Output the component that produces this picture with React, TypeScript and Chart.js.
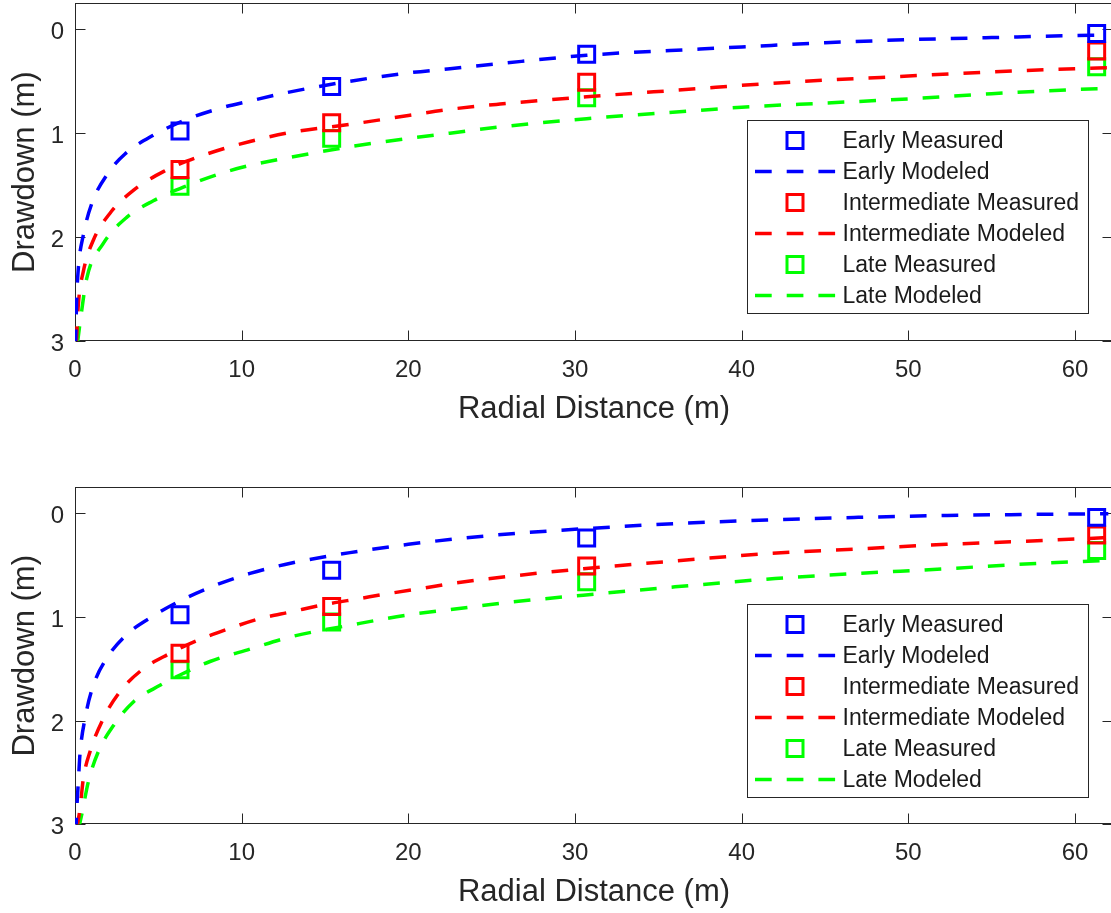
import React, { useEffect, useRef } from "react";
import { Chart, registerables } from "chart.js";

Chart.register(...registerables);

const FONT = "'Liberation Sans', Arial, Helvetica, sans-serif";
const AXIS_COLOR = "#262626";

// ---- tick labels ----
const xTicks = [0, 10, 20, 30, 40, 50, 60];
const yTicks = [0, 1, 2, 3];

// ---- measured drawdown (same in both panels) ----
const measuredDistance = [6.3, 15.4, 30.7, 61.3];
const earlyMeasured = [0.98, 0.55, 0.24, 0.04];
const intermediateMeasured = [1.35, 0.9, 0.51, 0.21];
const lateMeasured = [1.51, 1.05, 0.66, 0.36];

// ---- top panel modeled curves ----
const topEarlyX = [0.03, 0.1, 0.2, 0.5, 1, 2, 3, 4.7, 6.5, 8.7, 10.5, 13, 16.5, 20, 22.5, 25.5, 30.7, 37.5, 40, 45, 50, 55, 60, 62];
const topEarlyY = [3.05, 2.6, 2.3, 1.98, 1.68, 1.38, 1.2, 1.02, 0.88, 0.76, 0.69, 0.6, 0.5, 0.42, 0.38, 0.33, 0.25, 0.19, 0.17, 0.13, 0.1, 0.08, 0.06, 0.055];
const topInterX = [0.08, 0.2, 0.5, 1.1, 2.1, 3.5, 5.3, 6.7, 8.9, 10.5, 13, 16.5, 20, 22.5, 25.5, 30.7, 37.5, 40, 45, 50, 55, 60, 62];
const topInterY = [3.02, 2.65, 2.33, 2.03, 1.77, 1.55, 1.37, 1.27, 1.15, 1.08, 0.99, 0.915, 0.83, 0.77, 0.72, 0.65, 0.57, 0.54, 0.49, 0.45, 0.41, 0.38, 0.37];
const topLateX = [0.15, 0.3, 0.7, 1.7, 3.1, 4.7, 6.5, 8.9, 10.5, 13, 16.5, 20, 22.5, 25.5, 30.7, 37.5, 40, 45, 50, 55, 60, 62];
const topLateY = [3.02, 2.83, 2.4, 2.06, 1.81, 1.65, 1.52, 1.38, 1.31, 1.23, 1.13, 1.05, 1.0, 0.94, 0.86, 0.78, 0.75, 0.71, 0.67, 0.62, 0.58, 0.57];

// ---- bottom panel modeled curves ----
const botEarlyX = [0.05, 0.1, 0.2, 0.3, 0.6, 1.1, 1.9, 3.1, 4.7, 6.5, 8.5, 10.5, 13, 16.5, 20, 23, 26, 30.5, 36, 41.5, 47, 52.3, 57, 62];
const botEarlyY = [3.1, 2.88, 2.59, 2.32, 1.98, 1.66, 1.4, 1.17, 0.99, 0.83, 0.69, 0.58, 0.48, 0.38, 0.3, 0.245, 0.2, 0.15, 0.1, 0.065, 0.04, 0.022, 0.012, 0.005];
const botInterX = [0.1, 0.3, 0.5, 0.9, 1.7, 2.7, 4.1, 5.6, 7.3, 9.3, 11, 13, 15, 17, 19, 21, 22.5, 26, 30.5, 36, 41.5, 47, 52.3, 57, 62];
const botInterY = [3.05, 2.85, 2.56, 2.3, 1.98, 1.72, 1.5, 1.36, 1.23, 1.11, 1.02, 0.95, 0.88, 0.825, 0.77, 0.72, 0.68, 0.61, 0.535, 0.46, 0.39, 0.345, 0.3, 0.27, 0.235];
const botLateX = [0.2, 0.4, 0.8, 1.4, 2.3, 3.5, 5.1, 6.3, 8.1, 10.5, 13, 16.5, 20, 22.5, 26, 30.5, 36, 42, 47, 52.3, 57, 62];
const botLateY = [3.05, 2.91, 2.59, 2.3, 2.05, 1.82, 1.66, 1.56, 1.43, 1.31, 1.19, 1.08, 0.98, 0.93, 0.86, 0.79, 0.71, 0.63, 0.58, 0.535, 0.49, 0.455];

const BLUE = "#0000ff";
const RED = "#ff0000";
const GREEN = "#00ff00";
const DASH = [16.7, 15];

const pts = (xs: number[], ys: number[]) => xs.map((x, i) => ({ x, y: ys[i] }));

function measuredSet(label: string, color: string, ys: number[]) {
  return {
    label,
    data: pts(measuredDistance, ys),
    showLine: false,
    pointStyle: "rect",
    pointRadius: 11.3,
    pointHoverRadius: 11.3,
    pointBorderWidth: 3,
    borderWidth: 3,
    borderColor: color,
    pointBorderColor: color,
    backgroundColor: "rgba(0,0,0,0)",
    pointBackgroundColor: "rgba(0,0,0,0)",
  };
}

function modeledSet(label: string, color: string, xs: number[], ys: number[]) {
  return {
    label,
    data: pts(xs, ys),
    showLine: true,
    pointRadius: 0,
    pointHoverRadius: 0,
    borderColor: color,
    borderWidth: 3.5,
    borderDash: DASH,
    cubicInterpolationMode: "monotone",
    fill: false,
  };
}

function buildDatasets(eX: number[], eY: number[], iX: number[], iY: number[], lX: number[], lY: number[]) {
  return [
    measuredSet("Early Measured", BLUE, earlyMeasured),
    modeledSet("Early Modeled", BLUE, eX, eY),
    measuredSet("Intermediate Measured", RED, intermediateMeasured),
    modeledSet("Intermediate Modeled", RED, iX, iY),
    measuredSet("Late Measured", GREEN, lateMeasured),
    modeledSet("Late Modeled", GREEN, lX, lY),
  ];
}

const axesFrame = {
  id: "axesFrame",
  beforeDatasetsDraw(chart: any) {
    const { ctx, chartArea, scales } = chart;
    const l = Math.round(chartArea.left) + 0.5;
    const r = Math.round(chartArea.right) - 0.5;
    const t = Math.round(chartArea.top) + 0.5;
    const b = Math.round(chartArea.bottom) - 0.5;
    ctx.save();
    ctx.strokeStyle = AXIS_COLOR;
    ctx.lineWidth = 1;
    ctx.setLineDash([]);
    ctx.strokeRect(l, t, r - l, b - t);
    ctx.beginPath();
    for (const v of xTicks) {
      const px = Math.round(scales.x.getPixelForValue(v)) + 0.5;
      ctx.moveTo(px, b);
      ctx.lineTo(px, b - 10);
      ctx.moveTo(px, t);
      ctx.lineTo(px, t + 10);
    }
    for (const v of yTicks) {
      const py = Math.round(scales.y.getPixelForValue(v)) + 0.5;
      ctx.moveTo(l, py);
      ctx.lineTo(l + 10, py);
      ctx.moveTo(r, py);
      ctx.lineTo(r - 10, py);
    }
    ctx.stroke();
    ctx.restore();
  },
};

const insideLegend = {
  id: "insideLegend",
  afterDraw(chart: any) {
    const { ctx, chartArea } = chart;
    const L = Math.round(chartArea.right - 366) + 0.5;
    const T = Math.round(chartArea.top + 116.5) + 0.5;
    const W = 341;
    const H = 193;
    ctx.save();
    ctx.fillStyle = "#ffffff";
    ctx.fillRect(L, T, W, H);
    ctx.strokeStyle = AXIS_COLOR;
    ctx.lineWidth = 1;
    ctx.setLineDash([]);
    ctx.strokeRect(L, T, W, H);
    chart.data.datasets.forEach((ds: any, i: number) => {
      const rowY = T + 20 + 31 * i;
      ctx.strokeStyle = ds.borderColor;
      if (ds.showLine) {
        ctx.lineWidth = ds.borderWidth;
        ctx.setLineDash(ds.borderDash || []);
        ctx.beginPath();
        ctx.moveTo(L + 7.5, rowY);
        ctx.lineTo(L + 88, rowY);
        ctx.stroke();
      } else {
        ctx.lineWidth = 3;
        ctx.setLineDash([]);
        ctx.strokeRect(L + 47.5 - 8, rowY - 8, 16, 16);
      }
      ctx.setLineDash([]);
      ctx.fillStyle = "#1a1a1a";
      ctx.font = `23px ${FONT}`;
      ctx.textBaseline = "middle";
      ctx.textAlign = "left";
      ctx.fillText(ds.label, L + 95, rowY + 1);
    });
    ctx.restore();
  },
};

function makeConfig(datasets: any[], areaTop: number, xAxisHeight: number, titlePadBottom: number) {
  return {
    type: "scatter",
    data: { datasets },
    options: {
      responsive: false,
      animation: false,
      devicePixelRatio: 1,
      events: [],
      layout: { autoPadding: false, padding: { left: 0, right: 7, top: areaTop, bottom: 0 } },
      plugins: { legend: { display: false }, tooltip: { enabled: false } },
      scales: {
        x: {
          type: "linear",
          min: 0,
          max: 62.28,
          grid: { display: false, drawTicks: false },
          border: { display: false },
          afterBuildTicks: (s: any) => {
            s.ticks = xTicks.map((v) => ({ value: v }));
          },
          afterFit: (s: any) => {
            s.height = xAxisHeight;
            s.paddingLeft = 0;
            s.paddingRight = 0;
            s.paddingTop = 0;
            s.paddingBottom = 0;
          },
          ticks: {
            padding: 15,
            color: AXIS_COLOR,
            autoSkip: false,
            maxRotation: 0,
            font: { family: FONT, size: 24 },
            callback: (v: any) => String(v),
          },
          title: {
            display: true,
            text: "Radial Distance (m)",
            color: AXIS_COLOR,
            font: { family: FONT, size: 31 },
            padding: { top: 0, bottom: titlePadBottom },
          },
        },
        y: {
          type: "linear",
          min: -0.25,
          max: 3,
          reverse: true,
          grid: { display: false, drawTicks: false },
          border: { display: false },
          afterBuildTicks: (s: any) => {
            s.ticks = yTicks.map((v) => ({ value: v }));
          },
          afterFit: (s: any) => {
            s.width = 75;
            s.paddingLeft = 0;
            s.paddingRight = 0;
            s.paddingTop = 0;
            s.paddingBottom = 0;
          },
          ticks: {
            padding: 11,
            labelOffset: 3.5,
            color: AXIS_COLOR,
            autoSkip: false,
            font: { family: FONT, size: 24 },
            callback: (v: any) => String(v),
          },
          title: {
            display: true,
            text: "Drawdown (m)",
            color: AXIS_COLOR,
            font: { family: FONT, size: 31 },
            padding: { top: 7, bottom: 0 },
          },
        },
      },
    },
    plugins: [axesFrame, insideLegend],
  };
}

export default function App() {
  const topRef = useRef<HTMLCanvasElement | null>(null);
  const botRef = useRef<HTMLCanvasElement | null>(null);

  useEffect(() => {
    const top = new Chart(
      topRef.current as HTMLCanvasElement,
      makeConfig(buildDatasets(topEarlyX, topEarlyY, topInterX, topInterY, topLateX, topLateY), 3.3, 115, 28) as any
    );
    const bot = new Chart(
      botRef.current as HTMLCanvasElement,
      makeConfig(buildDatasets(botEarlyX, botEarlyY, botInterX, botInterY, botLateX, botLateY), 31.3, 88.7, 1.6) as any
    );
    return () => {
      top.destroy();
      bot.destroy();
    };
  }, []);

  return (
    <div
      style={{
        position: "absolute",
        left: 0,
        top: 0,
        width: 1111,
        height: 913,
        overflow: "hidden",
        background: "#ffffff",
      }}
    >
      <canvas ref={topRef} width={1120} height={456} style={{ position: "absolute", left: 0, top: 0, width: 1120, height: 456 }} />
      <canvas ref={botRef} width={1120} height={457} style={{ position: "absolute", left: 0, top: 456, width: 1120, height: 457 }} />
    </div>
  );
}
